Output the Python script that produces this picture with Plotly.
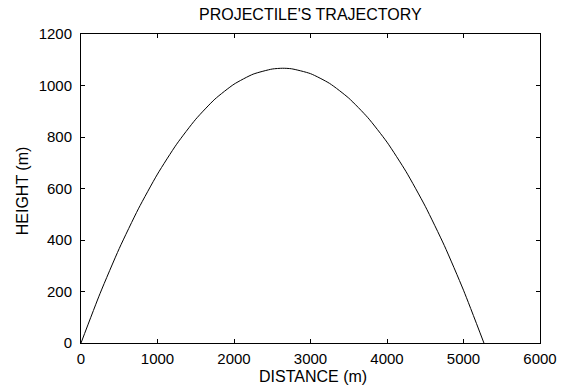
import plotly.graph_objects as go

# Projectile path: horizontal distance (m) and height (m)
distance_m = [0, 250, 500, 750, 1000, 1250, 1500, 1750, 2000, 2250, 2500,
              2633, 2750, 3000, 3250, 3500, 3750, 4000, 4250, 4500, 4750,
              5000, 5267]
height_m = [0, 193, 367, 521, 656, 772, 869, 947, 1005, 1044, 1064,
            1067, 1065, 1046, 1008, 951, 875, 780, 665, 531, 378,
            205, 0]

x_ticks = [0, 1000, 2000, 3000, 4000, 5000, 6000]
y_ticks = [0, 200, 400, 600, 800, 1000, 1200]

FONT = "Liberation Sans, Arial, Helvetica, sans-serif"

fig = go.Figure()
fig.add_trace(go.Scatter(
    x=distance_m, y=height_m, mode="lines",
    line=dict(color="black", width=1, shape="spline", smoothing=0.6),
    showlegend=False, hoverinfo="skip",
))

axis_common = dict(
    showgrid=False, zeroline=False,
    showline=True, linecolor="black", linewidth=1, mirror="ticks",
    ticks="inside", ticklen=4, tickcolor="black", tickwidth=1,
    tickfont=dict(family=FONT, size=15, color="black"),
)

fig.update_layout(
    width=569, height=385,
    margin=dict(l=81, r=19, t=34, b=42),
    paper_bgcolor="white", plot_bgcolor="white",
    xaxis=dict(range=[0, 6000], tickvals=x_ticks,
               ticktext=[str(v) for v in x_ticks],
               ticklabelstandoff=2, **axis_common),
    yaxis=dict(range=[0, 1200], tickvals=y_ticks,
               ticktext=[str(v) for v in y_ticks],
               ticklabelstandoff=5, **axis_common),
    annotations=[
        dict(text="PROJECTILE'S TRAJECTORY", xref="paper", yref="paper",
             x=0.5, y=(343 - 15) / 309,
             xanchor="center", yanchor="middle", showarrow=False,
             font=dict(family=FONT, size=16, color="black")),
        dict(text="DISTANCE (m)", xref="paper", yref="paper",
             x=(318 - 81) / 469, y=(343 - 376) / 309,
             xanchor="center", yanchor="middle", showarrow=False,
             font=dict(family=FONT, size=16, color="black")),
        dict(text="HEIGHT (m)", xref="paper", yref="paper",
             x=(21 - 81) / 469, y=(343 - 191) / 309, textangle=-90,
             xanchor="center", yanchor="middle", showarrow=False,
             font=dict(family=FONT, size=16, color="black")),
    ],
)

fig.write_html("out.html")
